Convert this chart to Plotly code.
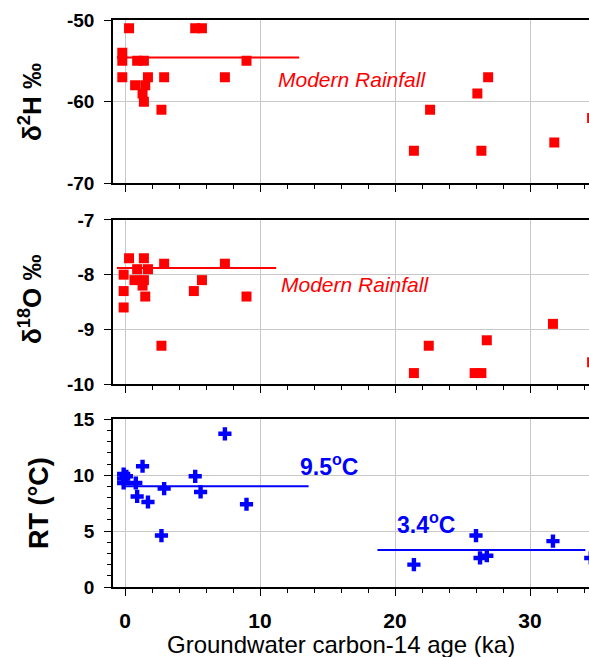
import plotly.graph_objects as go

# δ2H panel
h_age = [-0.2, -0.2, -0.2, 0.3, 0.9, 1.4, 0.75, 1.7, 1.5, 1.3, 1.4, 2.9, 2.7, 5.2, 5.7, 7.4, 9.0,
         26.9, 26.1, 22.6, 21.4, 26.4, 31.8, 34.6]
h_val = [-54, -55, -57, -51, -55, -55, -58, -57, -58, -59, -60, -57, -61, -51, -51, -57, -55,
         -57, -59, -61, -66, -66, -65, -62]
# δ18O panel
o_age = [0.3, -0.1, -0.1, -0.1, 0.9, 0.7, 1.4, 1.7, 1.4, 1.3, 1.5, 2.9, 2.7, 5.1, 5.7, 7.4, 9.0,
         21.4, 22.5, 25.9, 26.4, 26.8, 31.7, 34.6]
o_val = [-7.7, -8.0, -8.3, -8.6, -7.9, -8.1, -7.7, -7.9, -8.1, -8.2, -8.4, -7.8, -9.3, -8.3, -8.1, -7.8, -8.4,
         -9.8, -9.3, -9.8, -9.8, -9.2, -8.9, -9.6]
# Recharge temperature panel
t_age = [-0.1, -0.1, -0.1, 0.1, 0.8, 0.9, 1.3, 1.7, 2.9, 2.7, 5.2, 5.6, 7.4, 9.0,
         26.0, 26.3, 26.8, 21.4, 31.7, 34.5]
t_val = [10.1, 9.7, 9.3, 9.9, 9.3, 8.1, 10.8, 7.6, 8.8, 4.6, 9.9, 8.5, 13.7, 7.4,
         4.6, 2.6, 2.8, 2.0, 4.1, 2.6]

# Reference lines
h_modern_x = [-0.6, 12.9]
h_modern_y = [-54.6, -54.6]
o_modern_x = [-0.6, 11.2]
o_modern_y = [-7.88, -7.88]
t_young_x = [0.0, 13.6]
t_young_y = [9.0, 9.0]
t_old_x = [18.7, 34.1]
t_old_y = [3.3, 3.3]

x_ticks = [0, 10, 20, 30]
x_ticktext = ["0", "10", "20", "30"]
h_ticks = [-70, -60, -50]
h_ticktext = ["-70", "-60", "-50"]
o_ticks = [-10, -9, -8, -7]
o_ticktext = ["-10", "-9", "-8", "-7"]
t_ticks = [0, 5, 10, 15]
t_ticktext = ["0", "5", "10", "15"]

RED = "#FF0000"
BLUE = "#0000FF"
GRID = "#c8c8c8"
FAM = "Liberation Sans, Arial, sans-serif"

fig = go.Figure()

def add_pts(x, y, ax, sym, color, size):
    fig.add_trace(go.Scatter(x=x, y=y, mode="markers", xaxis=ax[0], yaxis=ax[1],
                             marker=dict(symbol=sym, color=color, size=size, line=dict(width=0)),
                             showlegend=False))

def add_line(x, y, ax, color):
    fig.add_trace(go.Scatter(x=x, y=y, mode="lines", xaxis=ax[0], yaxis=ax[1],
                             line=dict(color=color, width=2), showlegend=False))

add_line(h_modern_x, h_modern_y, ("x", "y"), RED)
add_pts(h_age, h_val, ("x", "y"), "square", RED, 10)
add_line(o_modern_x, o_modern_y, ("x2", "y2"), RED)
add_pts(o_age, o_val, ("x2", "y2"), "square", RED, 10)
add_line(t_young_x, t_young_y, ("x3", "y3"), BLUE)
add_line(t_old_x, t_old_y, ("x3", "y3"), BLUE)
add_pts(t_age, t_val, ("x3", "y3"), "cross", BLUE, 11)

ytickfont = dict(family=FAM, size=19, color="black", weight="bold")
xtickfont = dict(family=FAM, size=21, color="black", weight="bold")
xr = [-0.889, 34.37]

def bold(lst):
    return ["<b>%s</b>" % s for s in lst]

def xaxis(anchor, labels):
    return dict(range=xr, anchor=anchor, domain=[0, 1], showline=True, linecolor="black", linewidth=1.5,
                mirror=True, ticks="outside", ticklen=7, tickcolor="black", tickwidth=1,
                tickvals=x_ticks, ticktext=bold(x_ticktext), showticklabels=labels, tickfont=xtickfont,
                ticklabelstandoff=7,
                showgrid=True, gridcolor=GRID, gridwidth=1, zeroline=False,
                minor=dict(ticks="outside", ticklen=4, tickcolor="black", dtick=2, tick0=0, showgrid=False))

def yaxis(anchor, dom, rng, tv, tt, minor=None):
    d = dict(range=rng, anchor=anchor, domain=dom, showline=True, linecolor="black", linewidth=1.5,
             ticks="outside", ticklen=7, tickcolor="black", tickvals=tv, ticktext=bold(tt), tickfont=ytickfont,
             ticklabelstandoff=6,
             showgrid=True, gridcolor=GRID, zeroline=False, mirror=False)
    if minor:
        d["minor"] = minor
    return d

fig.update_layout(
    width=589, height=657,
    margin=dict(l=113, r=0, t=20, b=70),
    plot_bgcolor="white", paper_bgcolor="white",
    font=dict(family=FAM),
    xaxis=xaxis("y", False),
    xaxis2=xaxis("y2", False),
    xaxis3=xaxis("y3", True),
    yaxis=yaxis("x", [0.712, 1.0], [-70, -50], h_ticks, h_ticktext),
    yaxis2=yaxis("x2", [0.358, 0.6473], [-10, -7], o_ticks, o_ticktext),
    yaxis3=yaxis("x3", [0.0, 0.2958], [0, 15], t_ticks, t_ticktext,
                 minor=dict(ticks="outside", ticklen=4, tickcolor="black", dtick=1, tick0=0, showgrid=False)),
)

# x-axis title
fig.add_annotation(text="Groundwater carbon-14 age (ka)", xref="paper", yref="paper",
                   x=(341 - 113) / 476, y=-(645 - 587.3) / 567, xanchor="center", yanchor="middle",
                   showarrow=False, font=dict(size=24, color="black", family=FAM))

# y-axis titles
ytitle_font = dict(size=26, color="black", family=FAM)
fig.add_annotation(text="<b>δ<sup>2</sup>H ‰</b>", xref="paper", yref="paper",
                   x=(30 - 113) / 476, y=1 - (102 - 20) / 567, textangle=-90,
                   xanchor="center", yanchor="middle", showarrow=False, font=ytitle_font)
fig.add_annotation(text="<b>δ<sup>18</sup>O ‰</b>", xref="paper", yref="paper",
                   x=(30 - 113) / 476, y=1 - (300 - 20) / 567, textangle=-90,
                   xanchor="center", yanchor="middle", showarrow=False, font=ytitle_font)
fig.add_annotation(text="<b>RT (°C)</b>", xref="paper", yref="paper",
                   x=(39 - 113) / 476, y=1 - (503 - 20) / 567, textangle=-90,
                   xanchor="center", yanchor="middle", showarrow=False,
                   font=dict(size=27, color="black", family=FAM))

# in-plot labels
mr_font = dict(size=21, color=RED, family=FAM)
fig.add_annotation(text="<i>Modern Rainfall</i>", x=16.8, y=-57.3, xref="x", yref="y",
                   showarrow=False, font=mr_font, xanchor="center", yanchor="middle")
fig.add_annotation(text="<i>Modern Rainfall</i>", x=17.0, y=-8.18, xref="x2", yref="y2",
                   showarrow=False, font=mr_font, xanchor="center", yanchor="middle")
temp_font = dict(size=23, color=BLUE, family=FAM)
fig.add_annotation(text="<b>9.5<sup>o</sup>C</b>", x=12.8, y=10.9, xref="x3", yref="y3",
                   showarrow=False, font=temp_font, xanchor="left", yanchor="middle")
fig.add_annotation(text="<b>3.4<sup>o</sup>C</b>", x=20.0, y=5.7, xref="x3", yref="y3",
                   showarrow=False, font=temp_font, xanchor="left", yanchor="middle")

fig.write_html("out.html")
